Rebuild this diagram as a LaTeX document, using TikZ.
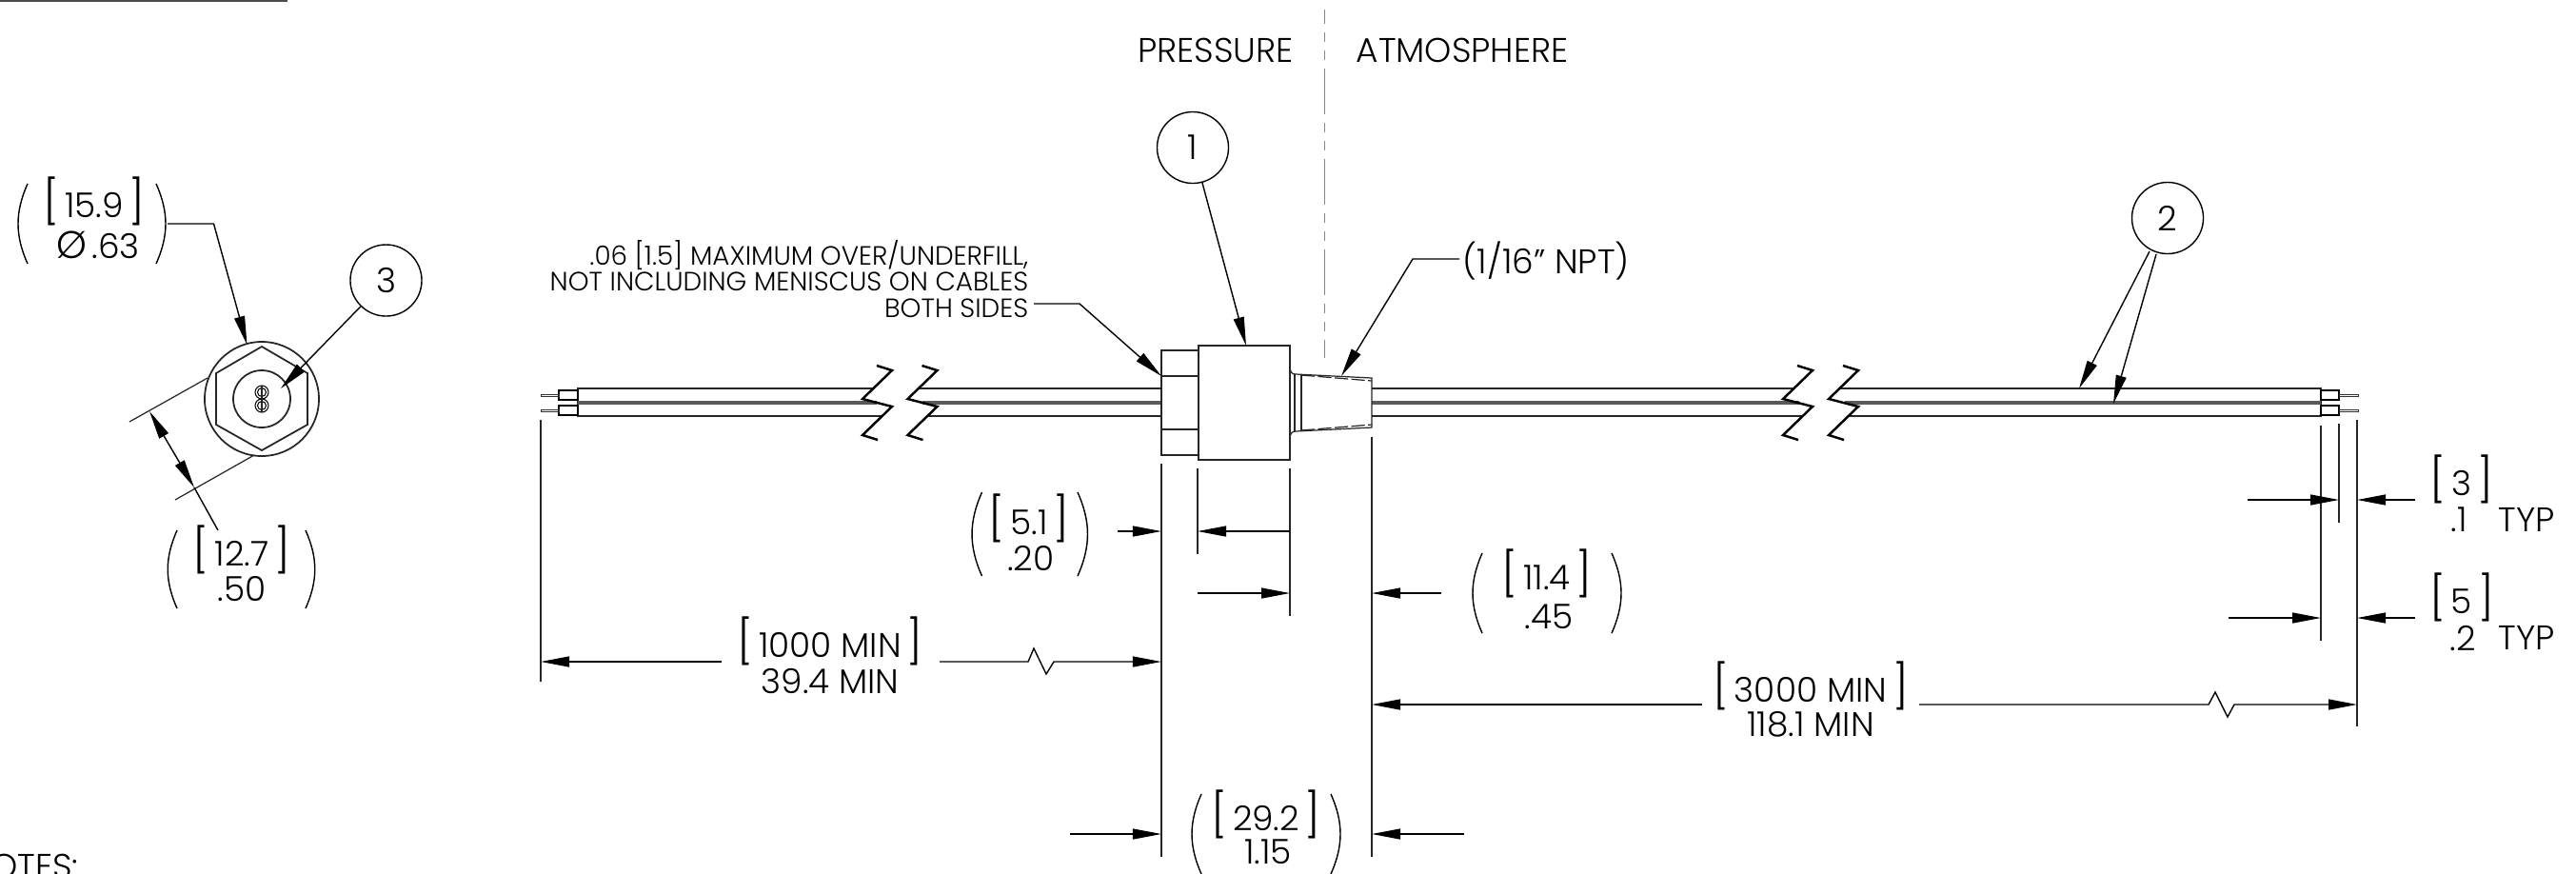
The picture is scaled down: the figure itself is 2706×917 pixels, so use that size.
\documentclass[tikz,border=0pt]{standalone}
\usepackage{fontspec}
\setmainfont{Poppins}[UprightFont=* Light]
\usetikzlibrary{arrows.meta}
\usetikzlibrary{positioning}
\definecolor{cline}{RGB}{0,220,60}
\newcommand{\brk}[1]{{\fontsize{13}{13}\selectfont[}\,#1\,{\fontsize{13}{13}\selectfont]}}
\newcommand{\parens}[4]{\path[paren line] (#1,#3) edge[bend right=24] (#1,#4) (#2,#3) edge[bend left=24] (#2,#4);}
\begin{document}
\begin{tikzpicture}[x=0.01cm,y=-0.01cm,>={Triangle[length=3mm,width=1.1mm]},
    line width=0.45pt,
    main line/.style={-,line width=0.5pt,color=black!85},
    thin line/.style={-,line width=0.35pt,color=black!85},
    paren line/.style={-,line width=0.4pt,color=black},
    dim line/.style={->,line width=0.4pt,color=black},
    core line/.style={-,line width=1pt,color=black!65},
    balloon node/.style={circle,draw,line width=0.4pt,minimum size=0.75cm,inner sep=0pt,font=\fontsize{10.2}{10.2}\selectfont},
    dim text/.style={inner sep=0pt,font=\fontsize{10.2}{10.2}\selectfont},
    note text/.style={inner sep=0pt,font=\fontsize{7.9}{7.8}\selectfont}]
   \useasboundingbox (0,0) rectangle (2706,917);
   % top left rule
   \draw[line width=0.6pt,color=black!70] (0,1) -- (302,1);
   \node[dim text,anchor=base east] (notes) at (83,922) {NOTES:};
   %
   % end view
   \begin{scope}
     \draw[main line] (275,419) circle (60);
     \draw[main line] (275,364) -- (323,392) -- (323,446) -- (275,473) -- (227,446) -- (227,392) -- cycle;
     \draw[main line] (275,419) circle (30);
     \foreach \yy in {412,426} {
       \draw[line width=0.3pt] (275,\yy) circle (7);
       \draw[line width=0.3pt] (275,\yy) circle (4.5);
       \fill (275,\yy) circle (1.3);
     }
     \path[thin line] (275,405) edge (275,433);
     \node[balloon node] (three) at (405.5,294.5) {3};
     \coordinate (threetip) at (295,408);
     \path[dim line] (three) edge (threetip);
     \node[dim text] (d159) at (99,211) {\brk{15.9}};
     \node[dim text] (d063) at (103,257) {{\fontsize{11.5}{11.5}\selectfont Ø}\,.63};
     \parens{29}{164}{193}{277}
     \coordinate (a) at (176,235);
     \coordinate (b) at (224.5,235);
     \coordinate (c) at (259.5,362);
     \draw[dim line] (a) -- (b) -- (c);
     \coordinate (e) at (218,397);
     \coordinate (f) at (136,443);
     \coordinate (g) at (267,478);
     \coordinate (h) at (184,525);
     \coordinate (i) at (157,432);
     \coordinate (j) at (204,512);
     \coordinate (k) at (229,557);
     \path[thin line] (e) edge (f);
     \path[thin line] (g) edge (h);
     \path[dim line,<->] (i) edge (j);
     \path[-,line width=0.4pt] (j) edge (k);
     \node[dim text] (d127) at (254,577) {\brk{12.7}};
     \node[dim text] (d050) at (254,619) {.50};
     \parens{186}{321}{557}{639}
   \end{scope}
   %
   % cables left of the break
   \draw[main line] (917,408) -- (607,408) -- (607,437) -- (927,437);
   \path[core line] (607,423) edge (921,423);
   \draw[line width=0.35pt] (607,410) rectangle (587,420) (607,426) rectangle (587,436);
   \draw[line width=0.25pt,color=black!80] (587,414) rectangle (568,416) (587,430) rectangle (568,432);
   \path[main line] (965,408) edge (1220,408) (974,437) edge (1220,437);
   \path[core line] (969,423) edge (1220,423);
   % cables right of the fitting
   \path[main line] (1441,408) edge (1883,408) (1441,437) edge (1894,437);
   \path[core line] (1441,423) edge (1890,423);
   \draw[main line] (1931,408) -- (2438,408) -- (2438,437) -- (1942,437);
   \path[core line] (1938,423) edge (2438,423);
   \draw[line width=0.35pt] (2438,410) rectangle (2457,420) (2438,426) rectangle (2457,436);
   \draw[line width=0.25pt,color=black!80] (2457,414) rectangle (2477,416) (2457,430) rectangle (2477,432);
   % break marks
   \foreach \xx in {0,47.5,967,1015} {
     \draw[line width=0.7pt] (921+\xx,384) -- (937+\xx,389) -- (906+\xx,419) -- (937+\xx,427) -- (906+\xx,457) -- (922+\xx,462);
   }
   %
   % fitting
   \draw[main line] (1259,368) -- (1220,368) -- (1220,478) -- (1259,478);
   \path[thin line] (1220,395) edge (1259,395) (1220,451) edge (1259,451);
   \draw[main line] (1259,363) rectangle (1355,483);
   \draw[thin line] (1355,387) .. controls (1356,391) and (1357,393) .. (1361,393) -- (1441,397) -- (1441,449) -- (1361,453) .. controls (1357,453) and (1356,455) .. (1355,459);
   \path[thin line] (1360,393) edge (1360,453) (1367,393) edge (1367,453);
   \path[thin line,dash pattern=on 4pt off 1pt] (1367,394) edge (1441,400) (1367,452) edge (1441,446);
   %
   % center line
   \draw[color=cline,line width=0.5pt,dash pattern=on 13.66pt off 2.56pt on 2.85pt off 2.56pt on 2.85pt off 2.56pt,dash phase=9.4pt] (1391.5,10) -- (1391.5,376);
   \node[dim text] (pressure) at (1277,53) {PRESSURE};
   \node[dim text] (atmosphere) at (1536,53) {ATMOSPHERE};
   %
   % balloons and notes
   \node[balloon node] (one) at (1253,155) {1};
   \coordinate (onetip) at (1309,363);
   \path[dim line] (one) edge (onetip);
   \node[balloon node] (two) at (2277,229) {2};
   \coordinate (twotipa) at (2184,408);
   \coordinate (twotipb) at (2220,424);
   \path[dim line] (2258,264) edge (twotipa);
   \path[dim line] (2265,267) edge (twotipb);
   \node[note text,align=right,anchor=east] (fill) at (1081,293) {.06 [1.5] MAXIMUM OVER/UNDERFILL,\\NOT INCLUDING MENISCUS ON CABLES\\BOTH SIDES};
   \coordinate (fillbend) at (1134,319);
   \coordinate (filltip) at (1220,395);
   \draw[dim line] (1086,319) -- (fillbend) -- (filltip);
   \node[dim text,anchor=west] (npt) at (1536,274) {(1/16" NPT)};
   \coordinate (nptbend) at (1484,272);
   \coordinate (npttip) at (1409,395);
   \draw[dim line] (npt.west) ++(-3,-2) -- (nptbend) -- (npttip);
   %
   % extension lines
   \path[thin line] (568,441) edge (568,716);
   \path[thin line] (1220,487) edge (1220,900);
   \path[thin line] (1258,492) edge (1258,582);
   \path[thin line] (1355,492) edge (1355,647);
   \path[thin line] (1441,459) edge (1441,900);
   \path[thin line] (2438,447) edge (2438,673);
   \path[thin line] (2457,445) edge (2457,549);
   \path[thin line] (2476,441) edge (2476,763);
   %
   % dimensions
   \path[dim line] (1174,558) edge (1220,558) (1355,558) edge (1258,558);
   \path[dim line] (1258,623) edge (1355,623) (1514,623) edge (1441,623);
   \path[dim line] (1124,876) edge (1220,876) (1538,876) edge (1441,876);
   \path[dim line] (2361,525) edge (2457,525) (2537,525) edge (2476,525);
   \path[dim line] (2341,649) edge (2438,649) (2537,649) edge (2476,649);
   \path[dim line] (758,695) edge (568,695);
   \draw[dim line] (987,695) -- (1080,695) -- (1086,681) -- (1099,708) -- (1107,695) -- (1220,695);
   \path[dim line] (1788,740) edge (1441,740);
   \draw[dim line] (2016,740) -- (2320,740) -- (2327,727) -- (2340,753) -- (2347,740) -- (2476,740);
   %
   \node[dim text] (d51) at (1081,544) {\brk{5.1}};
   \node[dim text] (d20) at (1083,586) {.20};
   \parens{1031.5}{1132}{517}{605}
   \node[dim text] (d114) at (1625,602) {\brk{11.4}};
   \node[dim text] (d45) at (1627,648) {.45};
   \parens{1557}{1693}{581}{665}
   \node[dim text] (d292) at (1330,855) {\brk{29.2}};
   \node[dim text] (d115) at (1332,895) {1.15};
   \parens{1262}{1398}{834}{918}
   \node[dim text] (d1000) at (872,673) {\brk{1000 MIN}};
   \node[dim text] (d394) at (872,715) {39.4 MIN};
   \node[dim text] (d3000) at (1902,720) {\brk{3000 MIN}};
   \node[dim text] (d1181) at (1902,761) {118.1 MIN};
   \node[dim text] (d3) at (2586,503) {\brk{3}};
   \node[dim text] (d01) at (2583,546) {.1};
   \node[dim text] (typa) at (2654,546) {TYP};
   \node[dim text] (d5) at (2586,627) {\brk{5}};
   \node[dim text] (d02) at (2587,670) {.2};
   \node[dim text] (typb) at (2654,670) {TYP};
\end{tikzpicture}
\end{document}
